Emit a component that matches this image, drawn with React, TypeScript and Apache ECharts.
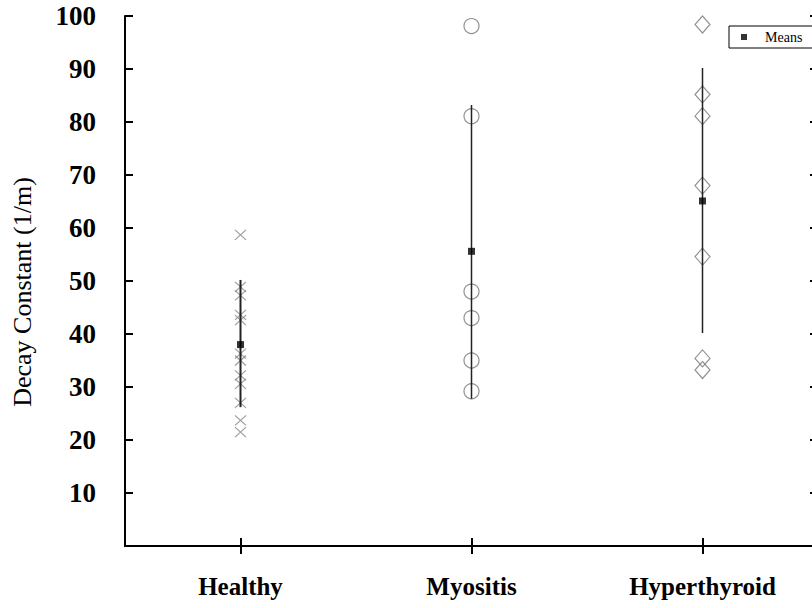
import React, { useEffect, useRef } from "react";
import * as echarts from "echarts";

const categories = ["Healthy", "Myositis", "Hyperthyroid"];
const yTicks = [0, 10, 20, 30, 40, 50, 60, 70, 80, 90, 100];
const healthyValues = [58.7, 48.9, 47.3, 43.6, 42.6, 36.3, 35.0, 32.2, 30.6, 27.0, 23.7, 21.5];
const myositisValues = [98.1, 81.1, 48.0, 43.0, 35.0, 29.2];
const hyperthyroidValues = [98.4, 85.2, 81.1, 68.0, 54.6, 35.4, 33.2];
const meanValues = [38.0, 55.6, 65.1];
const lowValues = [26.2, 27.8, 40.2];
const highValues = [50.2, 83.2, 90.2];
const yTitle = "Decay Constant (1/m)";
const legendLabel = "Means";

const SERIF = "'Liberation Serif', 'Times New Roman', serif";

export default function App() {
  const ref = useRef<HTMLDivElement>(null);
  useEffect(() => {
    if (!ref.current) return;
    const chart = echarts.init(ref.current, undefined, { renderer: "svg" });
    const errData = categories.map((c, i) => [i, lowValues[i], highValues[i]]);
    const option: any = {
      animation: false,
      backgroundColor: "#fff",
      grid: { left: 125, top: 16, right: 2, bottom: 62, containLabel: false },
      legend: {
        data: [legendLabel],
        left: 729,
        top: 26,
        orient: "horizontal",
        padding: [4, 24, 4, 12],
        borderColor: "#000",
        borderWidth: 1,
        itemWidth: 6,
        itemHeight: 6,
        icon: "rect",
        textStyle: { fontFamily: SERIF, fontSize: 14, color: "#000", padding: [0, 0, 0, 13] },
      },
      xAxis: [
        {
          type: "category",
          data: categories,
          position: "bottom",
          axisLine: { show: true, lineStyle: { color: "#000", width: 2 } },
          axisTick: { show: true, inside: true, alignWithLabel: true, length: 8, lineStyle: { color: "#000", width: 2 } },
          axisLabel: { fontFamily: SERIF, fontSize: 25, fontWeight: "bold", color: "#000", margin: 28 },
          splitLine: { show: false },
        },
        {
          type: "category",
          data: categories,
          position: "top",
          axisLine: { show: true, lineStyle: { color: "#000", width: 2 } },
          axisTick: { show: true, inside: true, alignWithLabel: true, length: 8, lineStyle: { color: "#000", width: 2 } },
          axisLabel: { show: false },
          splitLine: { show: false },
        },
      ],
      yAxis: [
        {
          type: "value",
          min: yTicks[0],
          max: yTicks[yTicks.length - 1],
          interval: 10,
          position: "left",
          axisLine: { show: true, lineStyle: { color: "#000", width: 2 } },
          axisTick: { show: true, inside: true, length: 8, lineStyle: { color: "#000", width: 2 } },
          axisLabel: {
            fontFamily: SERIF,
            fontSize: 27,
            fontWeight: "bold",
            color: "#000",
            margin: 29,
            formatter: (v: number) => (v === 0 ? "" : String(v)),
          },
          splitLine: { show: false },
        },
        {
          type: "value",
          min: yTicks[0],
          max: yTicks[yTicks.length - 1],
          interval: 10,
          position: "right",
          axisLine: { show: true, lineStyle: { color: "#000", width: 2 } },
          axisTick: { show: true, inside: true, length: 8, lineStyle: { color: "#000", width: 2 } },
          axisLabel: { show: false },
          splitLine: { show: false },
        },
      ],
      graphic: [
        {
          type: "text",
          x: 22,
          y: 292,
          rotation: Math.PI / 2,
          style: {
            text: yTitle,
            fontFamily: SERIF,
            fontSize: 26,
            fill: "#000",
            textAlign: "center",
            textVerticalAlign: "middle",
          },
        },
      ],
      series: [
        {
          name: "Healthy",
          type: "scatter",
          symbol: "path://M0,0L10,10M10,0L0,10",
          symbolSize: [11, 10],
          itemStyle: { color: "transparent", borderColor: "#888", borderWidth: 1.2 },
          data: healthyValues.map((v) => [0, v]),
          z: 2,
        },
        {
          name: "Myositis",
          type: "scatter",
          symbol: "circle",
          symbolSize: 15,
          itemStyle: { color: "transparent", borderColor: "#777", borderWidth: 1.2 },
          data: myositisValues.map((v) => [1, v]),
          z: 2,
        },
        {
          name: "Hyperthyroid",
          type: "scatter",
          symbol: "diamond",
          symbolSize: [15, 17],
          itemStyle: { color: "transparent", borderColor: "#777", borderWidth: 1.2 },
          data: hyperthyroidValues.map((v) => [2, v]),
          z: 2,
        },
        {
          name: "SD",
          type: "custom",
          data: errData,
          encode: { x: 0, y: [1, 2] },
          renderItem: (params: any, api: any) => {
            const idx = api.value(0);
            const p1 = api.coord([idx, api.value(1)]);
            const p2 = api.coord([idx, api.value(2)]);
            return {
              type: "line",
              shape: { x1: p1[0], y1: p1[1], x2: p2[0], y2: p2[1] },
              style: { stroke: "#222", lineWidth: idx === 0 ? 2 : 1.5 },
            };
          },
          z: 3,
        },
        {
          name: legendLabel,
          type: "scatter",
          symbol: "rect",
          symbolSize: 7,
          itemStyle: { color: "#000" },
          data: meanValues.map((v, i) => [i, v]),
          z: 4,
        },
      ],
    };
    chart.setOption(option);
    return () => chart.dispose();
  }, []);
  return (
    <div style={{ position: "absolute", left: 0, top: 0, width: 812, height: 608, overflow: "hidden" }}>
      <div ref={ref} style={{ width: 820, height: 608 }} />
    </div>
  );
}
